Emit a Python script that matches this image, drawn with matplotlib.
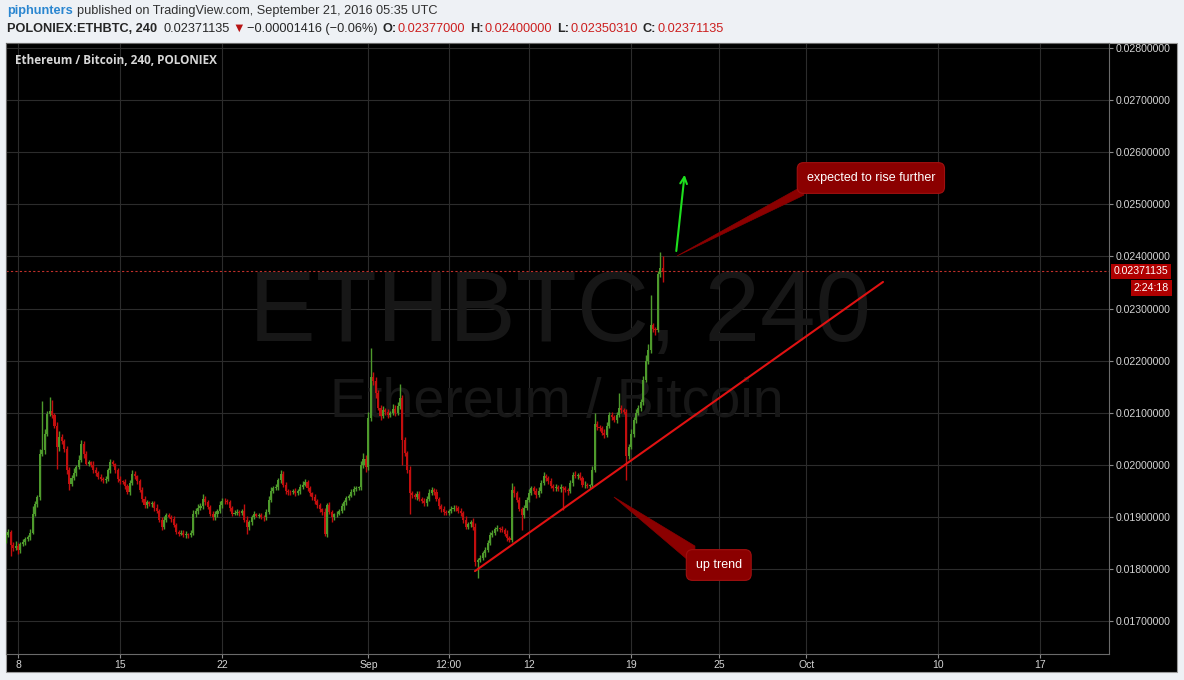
import matplotlib.pyplot as plt
import matplotlib.patches as mpatches
import numpy as np
from matplotlib.ticker import FuncFormatter, FixedLocator

plt.rcParams["font.family"] = ["Liberation Sans", "DejaVu Sans"]

W, H = 1184, 680

# ETHBTC 4h candles, Aug 7 2016 04:00 -> Sep 21 2016 04:00
# prices in 1e-5 BTC; each open is the previous close
first_open = 1855
closes = [
    1866, 1872, 1846, 1840, 1845, 1836, 1848, 1852, 1858, 1861,
    1870, 1906, 1925, 1938, 2021, 2028, 2060, 2098, 2104, 2095,
    2075, 2034, 2053, 2045, 2030, 1990, 1963, 1975, 1985, 1996,
    2010, 2040, 2020, 2002, 2005, 2000, 1990, 1984, 1976, 1972,
    1970, 1972, 1990, 2005, 2001, 1990, 1972, 1968, 1967, 1960,
    1947, 1965, 1983, 1978, 1968, 1951, 1935, 1922, 1928, 1924,
    1926, 1918, 1912, 1895, 1880, 1895, 1903, 1900, 1896, 1885,
    1871, 1868, 1870, 1866, 1867, 1865, 1870, 1905, 1912, 1918,
    1920, 1935, 1928, 1919, 1905, 1899, 1906, 1912, 1922, 1931,
    1930, 1928, 1918, 1906, 1907, 1910, 1908, 1912, 1895, 1880,
    1890, 1900, 1905, 1902, 1903, 1900, 1899, 1910, 1932, 1950,
    1955, 1957, 1970, 1983, 1962, 1950, 1948, 1947, 1949, 1946,
    1950, 1958, 1962, 1967, 1955, 1945, 1938, 1930, 1922, 1915,
    1909, 1868, 1922, 1910, 1899, 1905, 1906, 1912, 1920, 1928,
    1936, 1941, 1948, 1954, 1955, 1957, 1999, 2012, 1995, 2090,
    2169, 2160, 2137, 2110, 2093, 2105, 2102, 2095, 2099, 2108,
    2100, 2112, 2128, 2048, 2022, 1990, 1945, 1942, 1939, 1944,
    1935, 1930, 1926, 1935, 1945, 1952, 1948, 1935, 1920, 1915,
    1910, 1908, 1912, 1915, 1918, 1917, 1912, 1907, 1895, 1881,
    1886, 1891, 1880, 1814, 1818, 1821, 1830, 1837, 1850, 1865,
    1870, 1876, 1878, 1877, 1875, 1868, 1860, 1856, 1952, 1945,
    1933, 1915, 1904, 1918, 1933, 1945, 1955, 1950, 1942, 1950,
    1965, 1978, 1975, 1968, 1960, 1955, 1958, 1954, 1957, 1955,
    1952, 1949, 1965, 1981, 1978, 1981, 1975, 1961, 1962, 1960,
    1961, 1990, 2079, 2072, 2070, 2062, 2057, 2075, 2096, 2092,
    2086, 2095, 2109, 2105, 2102, 2016, 2035, 2060, 2086, 2100,
    2110, 2120, 2162, 2200, 2220, 2268, 2261, 2258, 2366, 2377,
    2371,
]
upper_wick = [
    6, 4, 3, 5, 8, 4, 3, 6, 4, 5,
    7, 15, 6, 4, 10, 95, 8, 6, 26, 20,
    5, 8, 12, 6, 4, 7, 5, 6, 9, 4,
    8, 7, 5, 6, 4, 3, 8, 5, 4, 6,
    5, 7, 4, 6, 5, 3, 4, 6, 3, 5,
    4, 6, 8, 5, 3, 4, 6, 5, 4, 3,
    5, 4, 6, 3, 5, 7, 4, 5, 3, 6,
    4, 3, 5, 4, 6, 3, 4, 8, 5, 6,
    7, 9, 5, 4, 3, 6, 5, 4, 8, 5,
    6, 4, 5, 3, 7, 5, 4, 3, 12, 6,
    5, 4, 6, 3, 5, 4, 3, 6, 8, 7,
    5, 6, 4, 8, 6, 5, 4, 3, 5, 6,
    4, 5, 7, 6, 4, 5, 3, 6, 4, 5,
    3, 8, 5, 6, 4, 3, 5, 4, 6, 5,
    4, 3, 6, 5, 4, 3, 8, 10, 6, 12,
    55, 10, 8, 6, 5, 7, 4, 6, 5, 8,
    6, 9, 28, 6, 5, 4, 7, 5, 4, 6,
    5, 4, 6, 5, 8, 6, 4, 5, 3, 4,
    5, 4, 3, 6, 5, 4, 3, 5, 4, 6,
    5, 4, 6, 8, 3, 5, 4, 6, 5, 7,
    5, 4, 6, 3, 5, 4, 6, 3, 13, 8,
    5, 6, 4, 5, 6, 8, 5, 4, 6, 7,
    6, 8, 5, 4, 6, 3, 5, 4, 6, 3,
    5, 4, 6, 5, 7, 4, 5, 3, 6, 4,
    3, 8, 20, 6, 5, 4, 6, 8, 6, 5,
    4, 6, 28, 5, 4, 6, 5, 8, 6, 7,
    5, 6, 8, 10, 12, 57, 5, 4, 6, 31,
    23,
]
lower_wick = [
    5, 4, 21, 6, 4, 8, 5, 3, 6, 4,
    5, 3, 4, 6, 5, 4, 8, 5, 4, 6,
    5, 42, 7, 5, 6, 8, 12, 4, 5, 6,
    4, 5, 6, 3, 5, 4, 6, 5, 4, 3,
    5, 4, 3, 5, 4, 6, 5, 4, 3, 6,
    3, 5, 4, 6, 5, 4, 6, 5, 4, 3,
    5, 6, 4, 5, 6, 4, 5, 3, 6, 5,
    4, 5, 3, 4, 6, 5, 3, 4, 5, 6,
    4, 5, 6, 4, 3, 5, 4, 6, 5, 4,
    5, 4, 6, 5, 3, 4, 6, 5, 4, 12,
    6, 5, 4, 3, 5, 4, 6, 5, 4, 3,
    5, 4, 6, 5, 4, 6, 5, 4, 3, 5,
    4, 6, 5, 3, 5, 4, 6, 5, 4, 6,
    5, 4, 6, 5, 8, 4, 5, 3, 4, 6,
    5, 4, 3, 6, 5, 4, 6, 5, 8, 4,
    5, 6, 8, 5, 7, 4, 6, 5, 4, 3,
    6, 5, 4, 48, 5, 6, 40, 5, 4, 6,
    5, 4, 6, 5, 4, 3, 6, 5, 4, 5,
    6, 5, 4, 5, 3, 6, 4, 5, 6, 5,
    4, 6, 5, 8, 31, 5, 4, 6, 5, 3,
    4, 5, 3, 6, 4, 5, 6, 5, 4, 6,
    5, 4, 29, 6, 5, 4, 3, 6, 5, 4,
    5, 4, 6, 5, 4, 6, 5, 4, 6, 42,
    5, 6, 4, 5, 3, 6, 5, 4, 6, 5,
    4, 5, 3, 6, 5, 4, 6, 3, 5, 6,
    4, 5, 3, 6, 5, 46, 5, 4, 6, 5,
    4, 6, 5, 4, 6, 5, 7, 9, 4, 6,
    20,
]

# x axis: days after Aug 8 2016
tick_days = [0, 7, 14, 24, 29.5, 35, 42, 48, 54, 63, 70]
tick_labels = ["8", "15", "22", "Sep", "12:00", "12", "19", "25", "Oct", "10", "17"]
price_ticks = [0.017, 0.018, 0.019, 0.020, 0.021, 0.022, 0.023, 0.024, 0.025, 0.026, 0.027, 0.028]
last_price = 0.02371135

# drawings (day, price)
trend_line = [(31.3, 0.01796), (59.25, 0.02351)]
rise_arrow = [(45.07, 0.02405), (45.68, 0.02562)]
rise_note = (58.42, 0.025505)
rise_wedge = [(45.14, 0.024008), (53.63, 0.025332), (53.84, 0.025178)]
trend_note = (48.0, 0.018077)
trend_wedge = [(40.82, 0.019382), (46.37, 0.018441), (46.37, 0.018058)]

GREEN = "#4e9a2c"
RED = "#c20e0e"
NOTE_RED = "#8b0000"

fig = plt.figure(figsize=(W / 100, H / 100), dpi=100, facecolor="#eef1f5")

# dark panel behind the chart and both scales
fig.patches.append(mpatches.Rectangle((6 / W, 1 - 672 / H), 1171 / W, 629 / H,
                                      transform=fig.transFigure, fc="black",
                                      ec="#9a9a9a", lw=0.8, zorder=-10))

ax = fig.add_axes([6 / W, 1 - 654 / H, 1103 / W, 611 / H])
ax.set_facecolor("black")
for s in ax.spines.values():
    s.set_color("#6a6a6a")
    s.set_linewidth(0.8)

o = np.array([first_open] + closes[:-1]) / 1e5
c = np.array(closes) / 1e5
hi = np.maximum(o, c) + np.array(upper_wick) / 1e5
lo = np.minimum(o, c) - np.array(lower_wick) / 1e5
days = -5 / 6 + np.arange(len(c)) / 6
cols = np.where(c >= o, GREEN, RED)

ax.vlines(days, lo, hi, colors=cols, lw=1.0, zorder=3)
ax.bar(days, np.maximum(np.abs(c - o), 2e-6), bottom=np.minimum(o, c),
       width=0.85 / 6, color=cols, lw=0, zorder=4)

ax.set_xlim(-0.82, 74.73)
ax.set_ylim(0.016369, 0.028096)

# watermark
ax.text(0.502, 0.555, "ETHBTC, 240", transform=ax.transAxes, ha="center", va="center",
        fontsize=72, color="#171717", zorder=1)
ax.text(0.499, 0.41, "Ethereum / Bitcoin", transform=ax.transAxes, ha="center", va="center",
        fontsize=40, color="#171717", zorder=1)
ax.text(0.008, 0.972, "Ethereum / Bitcoin, 240, POLONIEX", transform=ax.transAxes,
        ha="left", va="center", fontsize=8.5, color="#d8d8d8", fontweight="bold",
        family=["Open Sans", "DejaVu Sans"])

# grid and scales
ax.xaxis.set_major_locator(FixedLocator(tick_days))
ax.set_xticklabels(tick_labels)
ax.set_yticks(price_ticks)
ax.yaxis.set_major_formatter(FuncFormatter(lambda v, _: f"{v:.8f}"))
ax.yaxis.tick_right()
ax.grid(color="#2c2c2c", lw=0.8, zorder=0)
ax.set_axisbelow(True)
ax.tick_params(axis="y", colors="#8a8a8a", labelcolor="#d4d4d4", labelsize=7.6,
               length=3, width=0.8, pad=2)
ax.tick_params(axis="x", colors="#8a8a8a", labelcolor="#d4d4d4", labelsize=7.5,
               length=3, width=0.8, pad=1.5)

# current price
ax.axhline(last_price, color="#c0302a", lw=0.8, ls=(0, (2, 2)), zorder=2)
ax.text(1.0045, last_price, f"{last_price:.8f}", transform=ax.get_yaxis_transform(),
        ha="left", va="center", fontsize=7.6, color="white", clip_on=False,
        bbox=dict(boxstyle="square,pad=0.25", fc="#b00000", ec="none"))
ax.annotate("2:24:18", xy=(1.0544, last_price), xycoords=ax.get_yaxis_transform(),
            xytext=(0, -12), textcoords="offset points", ha="right", va="center",
            fontsize=7.6, color="white", annotation_clip=False,
            bbox=dict(boxstyle="square,pad=0.25", fc="#b00000", ec="none"))

# drawings
ax.plot(*zip(*trend_line), color="#e01212", lw=1.5, zorder=6, solid_capstyle="round")
ax.annotate("", xy=rise_arrow[1], xytext=rise_arrow[0],
            arrowprops=dict(arrowstyle="->", color="#1ee01e", lw=1.5, mutation_scale=12),
            zorder=6)
ax.add_patch(mpatches.Polygon(rise_wedge, closed=True, fc=NOTE_RED, ec=NOTE_RED, lw=0.5, zorder=6))
ax.add_patch(mpatches.Polygon(trend_wedge, closed=True, fc=NOTE_RED, ec=NOTE_RED, lw=0.5, zorder=6))
note_box = dict(boxstyle="round,pad=0.75,rounding_size=0.5", fc=NOTE_RED, ec="#a01010", lw=0.8)
ax.text(*rise_note, "expected to rise further", ha="center", va="center", fontsize=9,
        color="white", bbox=note_box, zorder=7)
ax.text(*trend_note, "up trend", ha="center", va="center", fontsize=9,
        color="white", bbox=note_box, zorder=7)

# header
fig.canvas.draw()
renderer = fig.canvas.get_renderer()


def header_line(y_px, pieces):
    x = 7
    for text, color, weight, gap in pieces:
        t = fig.text(x / W, 1 - y_px / H, text, color=color, fontweight=weight,
                     fontsize=9.2, ha="left", va="center")
        x = t.get_window_extent(renderer=renderer).x1 + gap


DARK = "#262626"
HRED = "#cc1f1f"
header_line(11, [("piphunters", "#2a86d0", "bold", 4),
                 ("published on TradingView.com, September 21, 2016 05:35 UTC", "#303030", "normal", 0)])
header_line(29, [("POLONIEX:ETHBTC, 240", DARK, "bold", 6),
                 ("0.02371135", DARK, "normal", 3),
                 ("\u25bc", "#b81414", "normal", 2),
                 ("\u22120.00001416 (\u22120.06%)", DARK, "normal", 5),
                 ("O:", DARK, "bold", 1), ("0.02377000", HRED, "normal", 5),
                 ("H:", DARK, "bold", 1), ("0.02400000", HRED, "normal", 5),
                 ("L:", DARK, "bold", 1), ("0.02350310", HRED, "normal", 5),
                 ("C:", DARK, "bold", 1), ("0.02371135", HRED, "normal", 0)])

fig.savefig("out.png", dpi=100, facecolor=fig.get_facecolor())
